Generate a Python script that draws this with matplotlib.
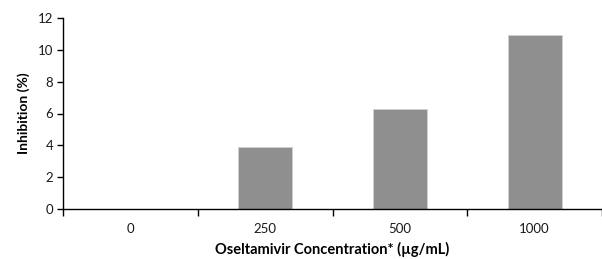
import matplotlib.pyplot as plt

concentrations = ["0", "250", "500", "1000"]
inhibition = [0.0, 3.9, 6.28, 10.95]

plt.rcParams["font.family"] = ["Lato", "DejaVu Sans"]

fig = plt.figure(figsize=(6.02, 2.59), dpi=100)
ax = fig.add_axes([63 / 602, 50 / 259, 1 - 63 / 602, 191 / 259])

x = range(len(concentrations))
ax.bar(x, inhibition, width=0.4, color="#8f8f8f", edgecolor="#d0d0d0", linewidth=0.6, zorder=2)

ax.set_ylim(0, 12)
ax.set_xlim(-0.5, 3.434)
ax.set_yticks(range(0, 13, 2))

# category boundaries as major ticks, labels on minor ticks at centres
ax.set_xticks([-0.5, 0.5, 1.5, 2.5, 3.5])
ax.set_xticklabels([])
ax.set_xticks(list(x), minor=True)
ax.set_xticklabels(concentrations, minor=True)
ax.tick_params(axis="x", which="major", direction="out", length=5, width=1, color="black")
ax.tick_params(axis="x", which="minor", length=0, pad=10, labelsize=9.5, colors="#1a1a1a")
ax.tick_params(axis="y", direction="out", length=4, width=1, labelsize=9.5, pad=3)
ax.tick_params(axis="y", colors="black", labelcolor="#1a1a1a")

for side in ["top", "right"]:
    ax.spines[side].set_visible(False)
ax.spines["left"].set_linewidth(1)
ax.spines["bottom"].set_linewidth(1)

ax.set_ylabel("Inhibition (%)", fontsize=10, fontweight="bold", labelpad=6)
ax.set_xlabel("Oseltamivir Concentration* (\u00b5g/mL)", fontsize=10.5, fontweight="bold", labelpad=5)

fig.savefig("out.png", dpi=100)
